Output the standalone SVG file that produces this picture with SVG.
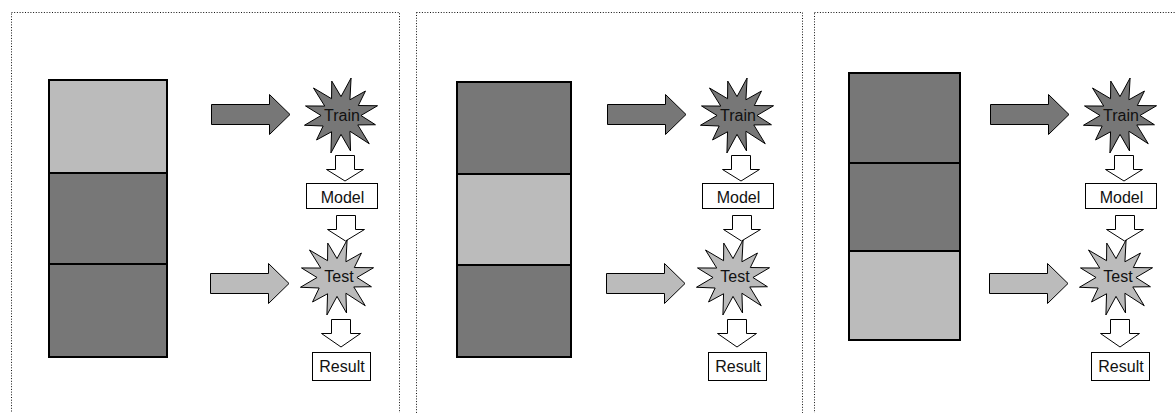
<svg xmlns="http://www.w3.org/2000/svg" width="1175" height="413" viewBox="0 0 1175 413">
<style>
.frame{fill:none;stroke:#111;stroke-width:1;stroke-dasharray:1 1.7}
.dark{fill:#777777;stroke:#000;stroke-width:2}
.light{fill:#bbbbbb;stroke:#000;stroke-width:2}
.bigd{fill:#777777;stroke:#000;stroke-width:1}
.bigl{fill:#bbbbbb;stroke:#000;stroke-width:1}
.wa{fill:#fff;stroke:#000;stroke-width:1}
.box{fill:#fff;stroke:#000;stroke-width:1}
.lbl{font-family:"Liberation Sans",Arial,sans-serif;font-size:16px;fill:#111;text-anchor:middle}
</style>
<defs>
<path id="star" stroke="#000" stroke-width="0.95" d="M0,-18 L9.6,-35.7 L8.5,-15 L23.3,-23.3 L16.5,-9.5 L34.8,-9.3 L19,0 L32.8,8.8 L16,9 L26.9,26.9 L8.5,15 L9.1,33.8 L0,18 L-9.6,35.7 L-9,15.5 L-23.3,23.3 L-17,10 L-34.8,9.3 L-19,0 L-33.8,-9.1 L-15.5,-9 L-26.2,-26.2 L-9,-16 L-8.8,-32.8 Z"/>
</defs>
<rect width="1175" height="413" fill="#fff"/>
<g id="frames">
<rect class="frame" x="11.5" y="12.5" width="388" height="500"/>
<rect class="frame" x="416.5" y="12.5" width="386" height="500"/>
<rect class="frame" x="814.5" y="12.5" width="400" height="500"/>
</g>

<!-- Panel 1 -->
<g id="p1-data">
<rect class="light" x="49" y="80" width="118" height="93"/>
<rect class="dark" x="49" y="173" width="118" height="91"/>
<rect class="dark" x="49" y="264" width="118" height="93"/>
</g>
<g id="p1-train"><use href="#star" fill="#777777" transform="translate(341,115.5) scale(1.05)"/><text class="lbl" x="342" y="120.5">Train</text></g>
<g id="p1-model"><rect class="box" x="306.5" y="183.5" width="71" height="25"/><text class="lbl" x="342.5" y="202.5">Model</text></g>
<g id="p1-test"><use href="#star" fill="#bbbbbb" transform="translate(337,277.5) scale(1.05)"/><text class="lbl" x="339" y="282">Test</text></g>
<g id="p1-result"><rect class="box" x="312.5" y="352.5" width="58" height="28"/><text class="lbl" x="342" y="372">Result</text></g>
<g id="p1-connectors">
<polygon class="bigd" points="211.5,104.5 269.5,104.5 269.5,94.5 290,114.5 269.5,134.5 269.5,124.5 211.5,124.5"/>
<polygon class="bigl" points="210.5,273.5 268.5,273.5 268.5,263.5 289,283.5 268.5,303.5 268.5,293.5 210.5,293.5"/>
<polygon class="wa" points="335.5,155.5 354.5,155.5 354.5,169.5 363.5,169.5 345,181 326.5,169.5 335.5,169.5"/>
<polygon class="wa" points="336.5,215.5 355.5,215.5 355.5,229.5 364.5,229.5 345.5,241 327.5,229.5 336.5,229.5"/>
<polygon class="wa" points="331.5,319.5 350.5,319.5 350.5,333.5 360.5,333.5 341,347 321.5,333.5 331.5,333.5"/>
</g>

<!-- Panel 2 -->
<g id="p2-data">
<rect class="dark" x="457" y="82" width="114" height="92"/>
<rect class="light" x="457" y="174" width="114" height="91"/>
<rect class="dark" x="457" y="265" width="114" height="92"/>
</g>
<g transform="translate(396,0)">
<g id="p2-train"><use href="#star" fill="#777777" transform="translate(341,115.5) scale(1.05)"/><text class="lbl" x="342" y="120.5">Train</text></g>
<g id="p2-model"><rect class="box" x="306.5" y="183.5" width="71" height="25"/><text class="lbl" x="342.5" y="202.5">Model</text></g>
<g id="p2-test"><use href="#star" fill="#bbbbbb" transform="translate(337,277.5) scale(1.05)"/><text class="lbl" x="339" y="282">Test</text></g>
<g id="p2-result"><rect class="box" x="312.5" y="352.5" width="58" height="28"/><text class="lbl" x="342" y="372">Result</text></g>
<g id="p2-connectors">
<polygon class="bigd" points="211.5,104.5 269.5,104.5 269.5,94.5 290,114.5 269.5,134.5 269.5,124.5 211.5,124.5"/>
<polygon class="bigl" points="210.5,273.5 268.5,273.5 268.5,263.5 289,283.5 268.5,303.5 268.5,293.5 210.5,293.5"/>
<polygon class="wa" points="335.5,155.5 354.5,155.5 354.5,169.5 363.5,169.5 345,181 326.5,169.5 335.5,169.5"/>
<polygon class="wa" points="336.5,215.5 355.5,215.5 355.5,229.5 364.5,229.5 345.5,241 327.5,229.5 336.5,229.5"/>
<polygon class="wa" points="331.5,319.5 350.5,319.5 350.5,333.5 360.5,333.5 341,347 321.5,333.5 331.5,333.5"/>
</g>
</g>

<!-- Panel 3 -->
<g id="p3-data">
<rect class="dark" x="849" y="73" width="111" height="90"/>
<rect class="dark" x="849" y="163" width="111" height="88"/>
<rect class="light" x="849" y="251" width="111" height="89"/>
</g>
<g transform="translate(779,0)">
<g id="p3-train"><use href="#star" fill="#777777" transform="translate(341,115.5) scale(1.05)"/><text class="lbl" x="342" y="120.5">Train</text></g>
<g id="p3-model"><rect class="box" x="306.5" y="183.5" width="71" height="25"/><text class="lbl" x="342.5" y="202.5">Model</text></g>
<g id="p3-test"><use href="#star" fill="#bbbbbb" transform="translate(337,277.5) scale(1.05)"/><text class="lbl" x="339" y="282">Test</text></g>
<g id="p3-result"><rect class="box" x="312.5" y="352.5" width="58" height="28"/><text class="lbl" x="342" y="372">Result</text></g>
<g id="p3-connectors">
<polygon class="bigd" points="211.5,104.5 269.5,104.5 269.5,94.5 290,114.5 269.5,134.5 269.5,124.5 211.5,124.5"/>
<polygon class="bigl" points="210.5,273.5 268.5,273.5 268.5,263.5 289,283.5 268.5,303.5 268.5,293.5 210.5,293.5"/>
<polygon class="wa" points="335.5,155.5 354.5,155.5 354.5,169.5 363.5,169.5 345,181 326.5,169.5 335.5,169.5"/>
<polygon class="wa" points="336.5,215.5 355.5,215.5 355.5,229.5 364.5,229.5 345.5,241 327.5,229.5 336.5,229.5"/>
<polygon class="wa" points="331.5,319.5 350.5,319.5 350.5,333.5 360.5,333.5 341,347 321.5,333.5 331.5,333.5"/>
</g>
</g>
</svg>
